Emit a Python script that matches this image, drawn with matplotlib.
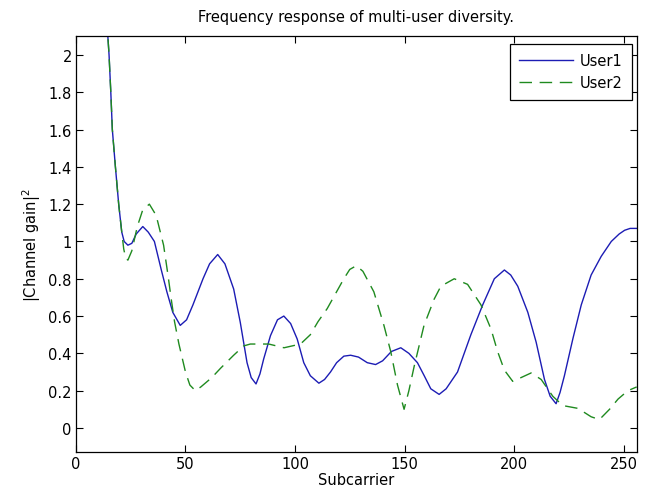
import matplotlib
matplotlib.use("Agg")
import matplotlib.pyplot as plt

plt.rcParams['font.family'] = ['DejaVu Sans']
plt.rcParams['mathtext.fontset'] = 'dejavusans'

# Subcarrier positions and |channel gain|^2 values
user1_x = [10, 12, 14, 15.1, 15.9, 16.6, 18, 19.5, 20.9, 22, 23.7, 25.5, 27.5, 30.5, 33,
           35.8, 38.9, 41.5, 44.2, 47.6, 50.5, 53.4, 58, 61, 64.7, 68, 72, 75, 78.1, 80,
           82.2, 84, 85.7, 88.8, 92, 94.9, 98, 101, 104, 107, 110.9, 113.5, 116.2, 119,
           122.3, 125.4, 129, 133, 136.8, 140, 144, 148.3, 152, 155.9, 159, 162, 165.8,
           169, 174.2, 180.3, 185.7, 191, 195.6, 198.5, 201.7, 206.3, 210.1, 213.9, 216.5,
           219.2, 221, 223, 226.9, 230.7, 235.2, 239.8, 244.4, 248, 250.5, 253, 256]
user1_y = [2.9, 2.55, 2.2, 2.0, 1.8, 1.6, 1.4, 1.2, 1.05, 1.0, 0.98, 0.99, 1.04, 1.08, 1.05,
           1.0, 0.85, 0.73, 0.62, 0.55, 0.58, 0.66, 0.80, 0.88, 0.93, 0.88, 0.745, 0.567, 0.35, 0.27,
           0.236, 0.29, 0.37, 0.495, 0.58, 0.60, 0.56, 0.477, 0.35, 0.28, 0.24, 0.26, 0.30, 0.35,
           0.385, 0.39, 0.38, 0.35, 0.34, 0.36, 0.41, 0.43, 0.40, 0.35, 0.28, 0.21, 0.18,
           0.21, 0.30, 0.50, 0.66, 0.80, 0.847, 0.82, 0.76, 0.62, 0.46, 0.26, 0.17,
           0.13, 0.19, 0.28, 0.48, 0.66, 0.82, 0.92, 1.00, 1.04, 1.06, 1.07, 1.07]

user2_x = [10, 12, 14, 15.1, 15.9, 16.6, 18, 19.5, 20.9, 21.8, 22.7, 23.7, 25.5, 28, 30.5,
           33.5, 36.6, 40, 42, 43.5, 45, 47, 50, 52, 54.5, 57, 62, 66, 72, 76.6, 79.6, 88,
           95, 102.5, 107, 110.5, 114.7, 118.5, 122.3, 125, 128, 131, 136, 140.6, 143.7,
           146.8, 149.8, 152, 154.4, 158.9, 163.5, 166.6, 172.7, 178.8, 184.9, 189.5, 192.5,
           195.6, 199.4, 203.2, 207.8, 212.4, 217.7, 222.3, 229.2, 235.2, 239, 243.6, 247.5,
           252, 256]
user2_y = [2.9, 2.55, 2.2, 2.0, 1.8, 1.6, 1.4, 1.2, 1.05, 0.96, 0.91, 0.90, 0.95, 1.08, 1.17,
           1.20, 1.14, 0.98, 0.82, 0.69, 0.57, 0.45, 0.30, 0.23, 0.20, 0.22, 0.27, 0.32, 0.39, 0.44, 0.45, 0.45,
           0.43, 0.45, 0.50, 0.57, 0.64, 0.72, 0.80, 0.85, 0.87, 0.84, 0.73, 0.55, 0.41,
           0.23, 0.10, 0.20, 0.33, 0.55, 0.69, 0.76, 0.80, 0.77, 0.66, 0.53, 0.41,
           0.31, 0.25, 0.27, 0.295, 0.26, 0.17, 0.12, 0.105, 0.06, 0.045, 0.10, 0.155,
           0.20, 0.22]

series_labels = ['User1', 'User2']
x_ticks = [0, 50, 100, 150, 200, 250]
y_ticks = [0, 0.2, 0.4, 0.6, 0.8, 1, 1.2, 1.4, 1.6, 1.8, 2]
y_tick_labels = ['0', '0.2', '0.4', '0.6', '0.8', '1', '1.2', '1.4', '1.6', '1.8', '2']

FS = 10.5

fig = plt.figure(figsize=(6.45, 4.89), dpi=100)
ax = fig.add_axes([0.1178, 0.0732, 0.8693, 0.8505])

ax.plot(user1_x, user1_y, color='#1c1cb4', lw=1.0, label=series_labels[0])
ax.plot(user2_x, user2_y, color='#1f8a1f', lw=1.0, dashes=(9, 5.5), label=series_labels[1])

ax.set_xlim(0, 256)
ax.set_ylim(-0.13, 2.1)
ax.set_xticks(x_ticks)
ax.set_yticks(y_ticks)
ax.set_yticklabels(y_tick_labels)
ax.tick_params(direction='in', top=True, right=True, length=5, width=0.8,
               labelsize=FS, pad=3)
for s in ax.spines.values():
    s.set_linewidth(0.9)

ax.set_title('Frequency response of multi-user diversity.', fontsize=FS, pad=11)
ax.set_xlabel('Subcarrier', fontsize=FS, labelpad=0.5)
ax.set_ylabel('|Channel gain|$^2$', fontsize=FS, labelpad=4)

# legend box: right edge ~632 px, top ~45 px in the picture
x_anchor = (632 - 76) / (636.7 - 76)
y_anchor = (453.2 - 45) / (453.2 - 37.3)
leg = ax.legend(loc='upper right', bbox_to_anchor=(x_anchor, y_anchor),
                fontsize=FS, fancybox=False, framealpha=1,
                edgecolor='black', handlelength=3.7, borderaxespad=0.0,
                borderpad=0.65, labelspacing=0.45, handletextpad=0.45)
leg.get_frame().set_linewidth(0.9)

fig.savefig('out.png', dpi=100)
